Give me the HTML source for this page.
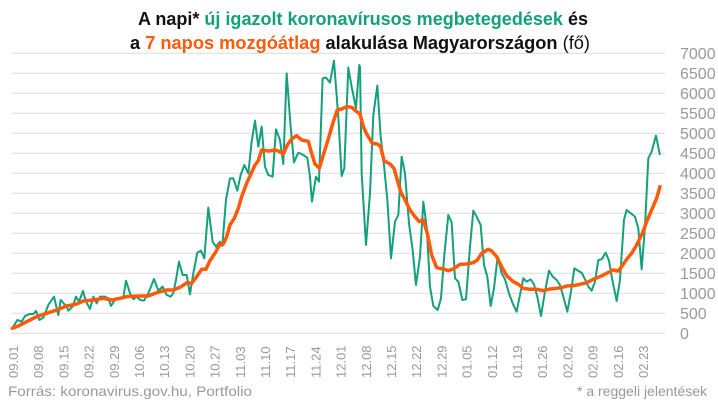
<!DOCTYPE html>
<html><head><meta charset="utf-8"><style>
html,body{margin:0;padding:0;background:#fff;}
svg{display:block;font-family:"Liberation Sans",sans-serif;}
</style></head><body>
<svg width="718" height="403" viewBox="0 0 718 403">
<g stroke="#dcdcdc" stroke-width="1">
<line x1="12" x2="665" y1="53.3" y2="53.3"/><line x1="12" x2="665" y1="73.3" y2="73.3"/>
<line x1="12" x2="665" y1="93.3" y2="93.3"/><line x1="12" x2="665" y1="113.3" y2="113.3"/>
<line x1="12" x2="665" y1="133.3" y2="133.3"/><line x1="12" x2="665" y1="153.3" y2="153.3"/>
<line x1="12" x2="665" y1="173.3" y2="173.3"/><line x1="12" x2="665" y1="193.3" y2="193.3"/>
<line x1="12" x2="665" y1="213.3" y2="213.3"/><line x1="12" x2="665" y1="233.3" y2="233.3"/>
<line x1="12" x2="665" y1="253.3" y2="253.3"/><line x1="12" x2="665" y1="273.3" y2="273.3"/>
<line x1="12" x2="665" y1="293.3" y2="293.3"/><line x1="12" x2="665" y1="313.3" y2="313.3"/>
<line x1="12" x2="665" y1="333.3" y2="333.3"/>
</g>
<g fill="#999" font-size="16">
<text x="680" y="59">7000</text><text x="680" y="79">6500</text><text x="680" y="99">6000</text>
<text x="680" y="119">5500</text><text x="680" y="139">5000</text><text x="680" y="159">4500</text>
<text x="680" y="179">4000</text><text x="680" y="199">3500</text><text x="680" y="219">3000</text>
<text x="680" y="239">2500</text><text x="680" y="259">2000</text><text x="680" y="279">1500</text>
<text x="680" y="299">1000</text><text x="680" y="319">500</text><text x="680" y="339">0</text>
</g>
<g fill="none" stroke="#14a07c" stroke-width="2" stroke-linejoin="round">
<polyline vector-effect="non-scaling-stroke" transform="translate(0,40) scale(0.3333)" points="37,865 52,840 65,845 75,828 90,822 100,822 108,813 118,840 130,833 145,795 162,770 175,825 182,780 200,800 205,812 218,800 228,770 237,785 249,753 258,785 270,807 280,770 290,790 300,770 315,770 325,775 333,798 345,780 358,777 370,773 378,722 390,760 400,778 410,770 420,780 432,782 445,760 462,717 475,752 488,740 500,765 512,770 520,760 528,720 537,665 548,705 560,705 570,763 580,700 592,638 603,632 613,655 625,503 638,605 648,620 660,605 667,618 678,480 690,415 700,415 712,452 722,405 733,375 745,400 755,305 765,242 775,320 785,260 795,380 805,405 818,410 828,268 840,300 850,372 860,100 872,260 882,367 895,338 910,345 922,353 930,410 936,485 948,410 957,425 968,115 978,113 990,128 1002,62 1015,230 1025,408 1033,385 1045,83 1055,140 1068,205 1078,75 1080,80"/>
<polyline vector-effect="non-scaling-stroke" transform="translate(360,40) scale(0.3333)" points="0,80 5,400 18,615 30,460 40,225 52,137 62,290 72,375 82,480 93,655 105,545 115,525 125,350 135,400 147,550 158,630 168,735 180,650 190,485 200,560 210,740 220,798 233,810 243,775 253,645 265,525 275,548 285,715 295,725 307,780 318,778 330,620 340,512 350,530 362,555 372,675 382,710 392,798 402,745 413,650 425,700 435,718 447,760 458,790 470,815 480,765 490,715 500,725 512,718 522,733 533,775 543,828 555,755 567,692 578,710 590,720 600,735 610,770 622,815 633,755 643,685 655,693 665,698 676,720 685,740 695,752 705,725 715,660 725,658 737,638 747,662 757,720 770,783 780,720 792,540 800,510 810,518 825,530 835,565 845,688 855,560 865,355 875,335 888,287 900,345"/>
</g>
<g fill="none" stroke="#ff5a0a" stroke-width="3.5" stroke-linejoin="round" stroke-linecap="round">
<polyline vector-effect="non-scaling-stroke" transform="translate(0,40) scale(0.3333)" points="37,865 55,858 80,845 110,830 140,820 170,810 200,798 230,792 250,783 280,780 310,775 335,780 360,775 380,770 420,768 445,768 470,758 500,750 520,750 540,742 562,728 575,730 590,710 605,688 618,688 630,662 645,640 660,612 670,612 680,590 690,555 703,535 715,505 725,470 740,430 750,408 765,375 775,362 785,330 805,333 825,330 835,333 850,342 862,315 875,297 890,287 905,300 925,304 935,340 945,372 958,385 970,345 985,297 1000,245 1012,210 1025,207 1040,200 1055,202 1068,213 1080,222"/>
<polyline vector-effect="non-scaling-stroke" transform="translate(360,40) scale(0.3333)" points="0,222 10,260 20,282 37,310 52,312 62,320 72,362 90,372 102,385 112,420 122,455 135,480 150,510 165,530 178,545 190,540 202,580 215,645 230,683 250,687 265,692 280,687 300,673 320,672 340,668 352,660 365,640 385,628 395,633 410,650 425,680 440,707 460,725 475,733 490,745 510,748 530,748 550,752 570,747 590,745 605,743 620,738 640,737 660,733 680,728 700,718 720,710 740,700 760,690 775,693 785,680 800,658 815,640 830,615 848,578 860,545 875,510 890,475 900,440"/>
</g>
<g fill="#999" font-size="13" text-anchor="start">
<text transform="translate(18,378) rotate(-90)">09.01</text>
<text transform="translate(43.2,378) rotate(-90)">09.08</text>
<text transform="translate(68.4,378) rotate(-90)">09.15</text>
<text transform="translate(93.6,378) rotate(-90)">09.22</text>
<text transform="translate(118.8,378) rotate(-90)">09.29</text>
<text transform="translate(144,378) rotate(-90)">10.06</text>
<text transform="translate(169.2,378) rotate(-90)">10.13</text>
<text transform="translate(194.4,378) rotate(-90)">10.20</text>
<text transform="translate(219.6,378) rotate(-90)">10.27</text>
<text transform="translate(244.8,378) rotate(-90)">11.03</text>
<text transform="translate(270,378) rotate(-90)">11.10</text>
<text transform="translate(295.2,378) rotate(-90)">11.17</text>
<text transform="translate(320.4,378) rotate(-90)">11.24</text>
<text transform="translate(345.6,378) rotate(-90)">12.01</text>
<text transform="translate(370.8,378) rotate(-90)">12.08</text>
<text transform="translate(396,378) rotate(-90)">12.15</text>
<text transform="translate(421.2,378) rotate(-90)">12.22</text>
<text transform="translate(446.4,378) rotate(-90)">12.29</text>
<text transform="translate(471.6,378) rotate(-90)">01.05</text>
<text transform="translate(496.8,378) rotate(-90)">01.12</text>
<text transform="translate(522,378) rotate(-90)">01.19</text>
<text transform="translate(547.2,378) rotate(-90)">01.26</text>
<text transform="translate(572.4,378) rotate(-90)">02.02</text>
<text transform="translate(597.6,378) rotate(-90)">02.09</text>
<text transform="translate(622.8,378) rotate(-90)">02.16</text>
<text transform="translate(648,378) rotate(-90)">02.23</text>
</g>
<text x="8" y="396" fill="#999" font-size="14" textLength="244" lengthAdjust="spacingAndGlyphs">Forrás: koronavirus.gov.hu, Portfolio</text>
<text x="707" y="396" fill="#999" font-size="14" text-anchor="end">* a reggeli jelentések</text>
<text x="138" y="25" font-size="18" font-weight="bold" textLength="450" lengthAdjust="spacingAndGlyphs"><tspan fill="#111">A napi* </tspan><tspan fill="#14a07c">új igazolt koronavírusos megbetegedések</tspan><tspan fill="#111"> és</tspan></text>
<text x="130" y="49" font-size="18" font-weight="bold" textLength="460" lengthAdjust="spacingAndGlyphs"><tspan fill="#111">a </tspan><tspan fill="#ff5a0a">7 napos mozgóátlag</tspan><tspan fill="#111"> alakulása Magyarországon </tspan><tspan fill="#111" font-weight="normal">(fő)</tspan></text>
</svg>
</body></html>
